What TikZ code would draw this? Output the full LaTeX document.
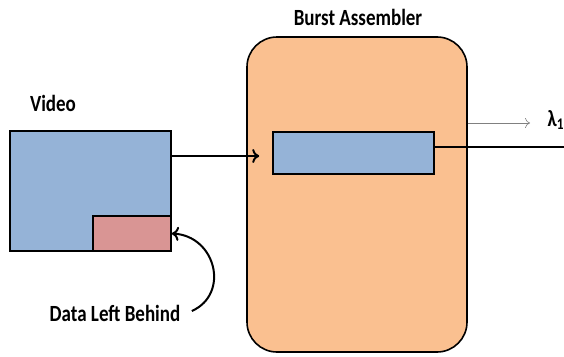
\documentclass[tikz,border=0pt]{standalone}
\usepackage{fontspec}
\usepackage{graphicx}
\setmainfont{Carlito}
\usetikzlibrary{positioning,arrows.meta}
\definecolor{vidblue}{RGB}{149,179,215}
\definecolor{leftpink}{RGB}{217,149,148}
\definecolor{asmorange}{RGB}{250,192,144}
\newcommand{\tall}[1]{\scalebox{1}[1.22]{#1}}

\begin{document}
\begin{tikzpicture}[x=1pt, y=-1pt,
    box/.style={draw, line width=1.6pt, inner sep=0pt},
    lbl/.style={font=\fontsize{19}{22}\selectfont\bfseries},
    feed/.style={-{To[length=7pt,width=14pt]}, line width=2pt}]
\useasboundingbox (0,0) rectangle (564,356);

% Burst assembler body with its queue
\node[box, fill=asmorange, rounded corners=30pt, minimum width=220pt, minimum height=315pt] (assembler) at (357,194.5) {};
\node[box, fill=vidblue, minimum width=161pt, minimum height=42pt] (queue) at (353.5,153) {};
\node[lbl] (asmlabel) at (358,17) {\tall{Burst Assembler}};

% Video buffer and the data left behind
\node[box, fill=vidblue, minimum width=161pt, minimum height=120pt] (video) at (90.5,191) {};
\node[box, fill=leftpink, minimum width=78pt, minimum height=35pt] (leftover) at (132,233.5) {};
\node[lbl] (vidlabel) at (53,103) {\tall{Video}};
\node[lbl] (leftlabel) at (115,313) {\tall{Data Left Behind}};

% Arrows
\draw[feed] (video.east |- 0,156) -- ([xshift=-13pt]queue.west |- 0,156);
\draw[feed] ([xshift=8pt,yshift=2pt]leftlabel.east) .. controls (230,294) and (216,236) .. (leftover.east);

% Output towards the wavelength
\coordinate (wave) at (564,147);
\coordinate (waveend) at (530,123);
\draw[line width=1.6pt] ([yshift=6pt]queue.east) -- (wave);
\draw[-{To[length=5pt,width=10pt]}, gray, line width=0.6pt] (assembler.east |- waveend) -- (waveend);
\node[lbl, anchor=west] (lambda) at (544,120) {\tall{λ\textsubscript{1}}};
\end{tikzpicture}
\end{document}
